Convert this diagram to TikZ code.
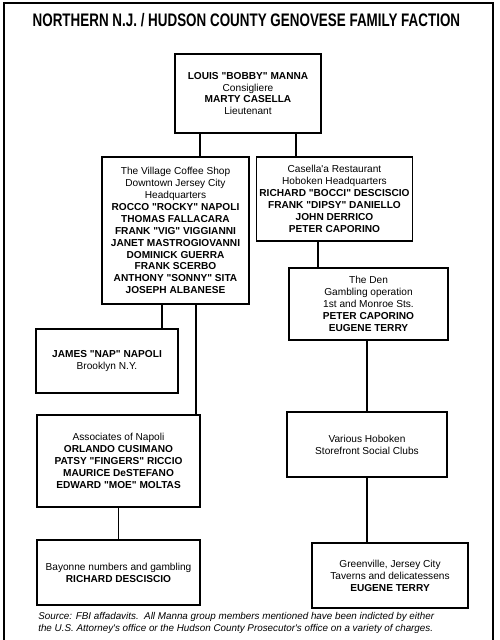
\documentclass[tikz,border=0pt]{standalone}
\usepackage{fontspec}
\setmainfont{Liberation Sans}[Ligatures=TeXOff]
\newfontfamily\titlefont[FakeStretch=0.74]{Liberation Sans}
\usetikzlibrary{positioning}
\tikzset{
    %Boxes of the chart
    crew/.style={
      rectangle,
      draw=black, line width=0.9pt,
      inner sep=2pt,
      align=center,
      font=\fontsize{7.2}{8.5}\selectfont},
    link/.style={
      draw=black, line width=0.8pt},
    frame/.style={
      draw=black, line width=1.2pt}
}
\begin{document}
\begin{tikzpicture}
\useasboundingbox (0,0) rectangle (12.475,-16);
\draw [frame] (0.1,-16.2) -- (0.1,-0.075) -- (12.325,-0.075) -- (12.325,-16.2);

\node (title) at (6.16,-0.5) {\titlefont\fontsize{12.9}{14}\selectfont\bfseries NORTHERN N.J. / HUDSON COUNTY GENOVESE FAMILY FACTION};

\node [crew, minimum width=3.65cm, minimum height=1.975cm] (manna) at (6.2,-2.3375)
  {\textbf{LOUIS "BOBBY" MANNA}\\Consigliere\\\textbf{MARTY CASELLA}\\Lieutenant};

\node [crew, minimum width=3.675cm, minimum height=3.675cm] (village) at (4.3875,-5.7625)
  {The Village Coffee Shop\\Downtown Jersey City\\Headquarters\\
   \textbf{ROCCO "ROCKY" NAPOLI}\\\textbf{THOMAS FALLACARA}\\\textbf{FRANK "VIG" VIGGIANNI}\\
   \textbf{JANET MASTROGIOVANNI}\\\textbf{DOMINICK GUERRA}\\\textbf{FRANK SCERBO}\\
   \textbf{ANTHONY "SONNY" SITA}\\\textbf{JOSEPH ALBANESE}};

\node [crew, minimum width=3.875cm, minimum height=2.1cm] (casella) at (8.3625,-4.975)
  {Casella'a Restaurant\\Hoboken Headquarters\\\textbf{RICHARD "BOCCI" DESCISCIO}\\
   \textbf{FRANK "DIPSY" DANIELLO}\\\textbf{JOHN DERRICO}\\\textbf{PETER CAPORINO}};

\node [crew, minimum width=3.975cm, minimum height=1.8cm] (den) at (9.2125,-7.6)
  {The Den\\Gambling operation\\1st and Monroe Sts.\\\textbf{PETER CAPORINO}\\\textbf{EUGENE TERRY}};

\node [crew, minimum width=3.55cm, minimum height=1.6cm] (james) at (2.675,-9.025)
  {\textbf{JAMES "NAP" NAPOLI}\\Brooklyn N.Y.};

\node [crew, minimum width=4.075cm, minimum height=2.3cm] (assoc) at (2.9625,-11.525)
  {Associates of Napoli\\\textbf{ORLANDO CUSIMANO}\\\textbf{PATSY "FINGERS" RICCIO}\\
   \textbf{MAURICE DeSTEFANO}\\\textbf{EDWARD "MOE" MOLTAS}};

\node [crew, minimum width=4.0cm, minimum height=1.625cm] (various) at (9.175,-11.1125)
  {Various Hoboken\\Storefront Social Clubs};

\node [crew, minimum width=4.075cm, minimum height=1.625cm] (bayonne) at (2.9625,-14.3125)
  {Bayonne numbers and gambling\\\textbf{RICHARD DESCISCIO}};

\node [crew, minimum width=3.9cm, minimum height=1.625cm] (greenville) at (9.75,-14.3875)
  {Greenville, Jersey City\\Taverns and delicatessens\\\textbf{EUGENE TERRY}};

\node [anchor=north west, align=left, inner sep=0pt,
       font=\fontsize{7}{8.6}\selectfont\itshape] (source) at (0.95,-15.3)
  {Source: FBI affadavits.\ \ All Manna group members mentioned have been indicted by either\\
   the U.S. Attorney's office or the Hudson County Prosecutor's office on a variety of charges.};

% connectors
\draw [link] ([xshift=-1.2cm]manna.south) -- ([xshift=-1.2cm]manna.south |- village.north);
\draw [link] ([xshift=1.2cm]manna.south) -- ([xshift=1.2cm]manna.south |- casella.north);
\draw [link] ([xshift=-0.3375cm]village.south) -- ([xshift=-0.3375cm]village.south |- james.north);
\draw [link] ([xshift=0.5125cm]village.south) -- ([xshift=0.5125cm]village.south |- assoc.north);
\draw [link] ([xshift=-0.4125cm]casella.south) -- ([xshift=-0.4125cm]casella.south |- den.north);
\draw [link] (various.north) -- (various.north |- den.south);
\draw [link] (various.south) -- (various.south |- greenville.north);
\draw [link] (assoc.south) -- (assoc.south |- bayonne.north);
\end{tikzpicture}
\end{document}
